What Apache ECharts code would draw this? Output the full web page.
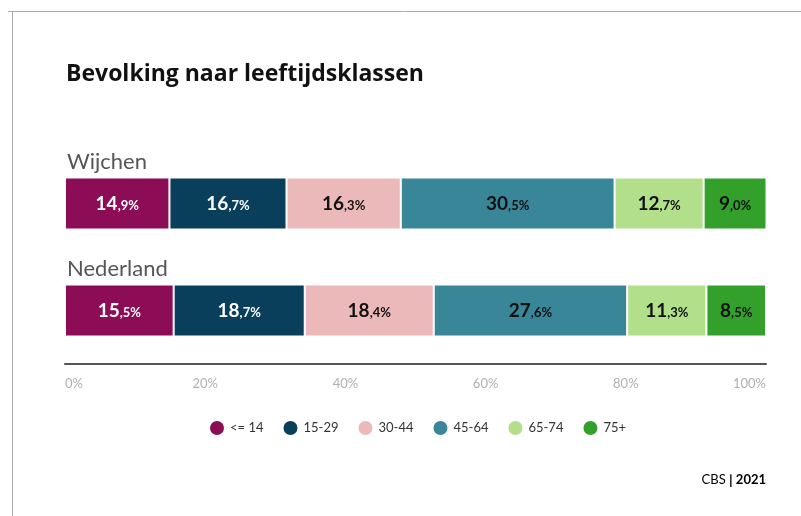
<!DOCTYPE html>
<html>
<head>
<meta charset="UTF-8">
<title>Bevolking naar leeftijdsklassen</title>
<script src="https://cdn.jsdelivr.net/npm/echarts@6/dist/echarts.min.js"></script>
<style>
  html, body { margin: 0; padding: 0; background: #fff; }
  #main { width: 801px; height: 516px; }
</style>
</head>
<body>
<div id="main"></div>
<script>
// gegevens
var regios = ['Wijchen', 'Nederland'];
var klassen = ['<= 14', '15-29', '30-44', '45-64', '65-74', '75+'];
var tot14 = [14.9, 15.5];
var van15tot29 = [16.7, 18.7];
var van30tot44 = [16.3, 18.4];
var van45tot64 = [30.5, 27.6];
var van65tot74 = [12.7, 11.3];
var vanaf75 = [9.0, 8.5];
var xTicks = [0, 20, 40, 60, 80, 100];

var reeksen = [tot14, van15tot29, van30tot44, van45tot64, van65tot74, vanaf75];
var kleuren = ['#8c0d55', '#0a3f5b', '#ebb9b9', '#3a8699', '#b2df8a', '#33a02c'];
var labelKleur = ['#fff', '#fff', '#111', '#111', '#111', '#111'];
var font = 'Lato, "Open Sans", sans-serif';
var titelFont = '"Open Sans", Lato, sans-serif';

var chart = echarts.init(document.getElementById('main'));

function maakLabel(p) {
  var delen = p.value.toFixed(1).split('.');
  return '{a|' + delen[0] + '}{b|,' + delen[1] + '%}';
}

var series = klassen.map(function (naam, i) {
  return {
    name: naam,
    type: 'bar',
    stack: 'totaal',
    barWidth: 52,
    data: reeksen[i],
    itemStyle: { color: kleuren[i], borderColor: '#fff', borderWidth: 1 },
    label: {
      show: true,
      position: 'inside',
      formatter: maakLabel,
      rich: {
        a: { fontSize: 19, fontWeight: 'bold', color: labelKleur[i], fontFamily: font },
        b: { fontSize: 13, fontWeight: 'bold', color: labelKleur[i], fontFamily: font, padding: [5, 0, 0, 0] }
      }
    }
  };
});

var option = {
  animation: false,
  backgroundColor: '#fff',
  textStyle: { fontFamily: font },
  title: {
    text: 'Bevolking naar leeftijdsklassen',
    left: 66,
    top: 63,
    padding: 0,
    textStyle: { fontSize: 23, fontWeight: 'bold', color: '#111', fontFamily: titelFont }
  },
  grid: { left: 65, right: 35, top: 150, height: 214, containLabel: false },
  legend: {
    data: klassen,
    left: 203,
    top: 414,
    icon: 'circle',
    itemWidth: 16,
    itemHeight: 16,
    itemGap: 18,
    textStyle: { fontSize: 13, color: '#333', fontFamily: font }
  },
  xAxis: {
    type: 'value',
    min: xTicks[0],
    max: xTicks[xTicks.length - 1],
    interval: 20,
    axisLine: { show: true, lineStyle: { color: '#555', width: 2 } },
    axisTick: { show: false },
    splitLine: { show: false },
    axisLabel: {
      formatter: '{value}%',
      color: '#b0b0b0',
      fontSize: 13,
      margin: 13,
      alignMinLabel: 'left',
      alignMaxLabel: 'right'
    }
  },
  yAxis: {
    type: 'category',
    data: regios,
    inverse: true,
    axisLine: { show: false },
    axisTick: { show: false },
    axisLabel: {
      inside: true,
      margin: 2,
      align: 'left',
      verticalAlign: 'bottom',
      padding: [0, 0, 31, 0],
      fontSize: 22,
      color: '#555',
      fontFamily: font
    }
  },
  graphic: [
    { type: 'line', shape: { x1: 8, y1: 11.5, x2: 801, y2: 11.5 }, style: { stroke: '#aaa', lineWidth: 1 } },
    { type: 'line', shape: { x1: 12.5, y1: 11, x2: 12.5, y2: 516 }, style: { stroke: '#aaa', lineWidth: 1 } },
    {
      type: 'text',
      right: 35,
      top: 473,
      style: {
        text: '{n|CBS }{s||}{j| 2021}',
        rich: {
          n: { fontSize: 13, color: '#333', fontFamily: font },
          s: { fontSize: 14, color: '#111', fontWeight: 'bold', fontFamily: font },
          j: { fontSize: 13, color: '#111', fontWeight: 'bold', fontFamily: font }
        }
      }
    }
  ],
  series: series
};

chart.setOption(option);
</script>
</body>
</html>
